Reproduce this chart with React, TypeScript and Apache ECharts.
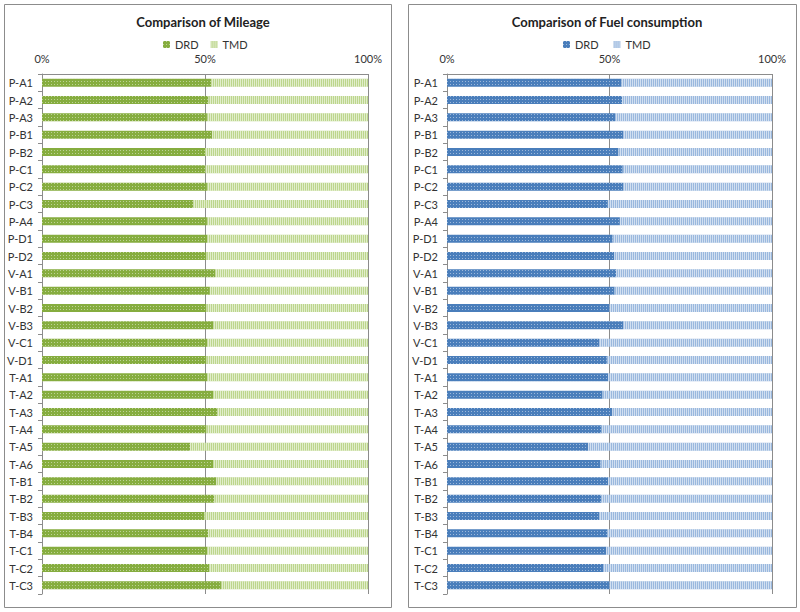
import React, { useEffect, useRef } from "react";
import * as echarts from "echarts";

const categories = ["P-A1","P-A2","P-A3","P-B1","P-B2","P-C1","P-C2","P-C3","P-A4","P-D1","P-D2","V-A1","V-B1","V-B2","V-B3","V-C1","V-D1","T-A1","T-A2","T-A3","T-A4","T-A5","T-A6","T-B1","T-B2","T-B3","T-B4","T-C1","T-C2","T-C3"];

const mileageDRD = [51.9,51.1,50.6,52.2,50.0,50.1,50.6,46.4,50.6,50.7,50.5,53.1,51.5,50.5,52.6,50.7,50.5,50.7,52.5,53.7,50.5,45.4,52.5,53.5,52.9,49.9,51.0,50.7,51.3,54.9];
const mileageTMD = [48.1,48.9,49.4,47.8,50.0,49.9,49.4,53.6,49.4,49.3,49.5,46.9,48.5,49.5,47.4,49.3,49.5,49.3,47.5,46.3,49.5,54.6,47.5,46.5,47.1,50.1,49.0,49.3,48.7,45.1];

const fuelDRD = [53.7,53.9,51.7,54.2,52.8,54.1,54.3,49.5,53.2,51.0,51.5,52.1,51.6,50.0,54.2,46.8,49.2,49.6,47.9,50.9,47.6,43.4,47.3,49.6,47.4,46.9,49.4,49.0,48.0,50.0];
const fuelTMD = [46.3,46.1,48.3,45.8,47.2,45.9,45.7,50.5,46.8,49.0,48.5,47.9,48.4,50.0,45.8,53.2,50.8,50.4,52.1,49.1,52.4,56.6,52.7,50.4,52.6,53.1,50.6,51.0,52.0,50.0];

const xTicks = [0, 50, 100];

const FONT = "Lato, 'Open Sans', sans-serif";

const dotDecal = {
  symbol: "rect",
  symbolSize: 1,
  dashArrayX: [1, 2],
  dashArrayY: [1, 2],
  color: "rgba(255,255,255,0.45)",
  rotation: 0,
};
const stripeDecal = {
  symbol: "rect",
  symbolSize: 1,
  dashArrayX: [1, 1],
  dashArrayY: [4, 0],
  color: "rgba(255,255,255,0.55)",
  rotation: 0,
};

export default function App() {
  const ref = useRef<HTMLDivElement>(null);
  useEffect(() => {
    const chart = echarts.init(ref.current!, null, { renderer: "svg" });
    const grids = [
      { left: 42, top: 74, width: 326, height: 520 },
      { left: 447, top: 74, width: 325, height: 520 },
    ];
    const xAxis = grids.map((_, i) => ({
      type: "value",
      gridIndex: i,
      position: "top",
      min: 0,
      max: 100,
      interval: 50,
      axisLine: { show: true, lineStyle: { color: "#8c8c8c" } },
      axisTick: { show: false },
      splitLine: { show: true, lineStyle: { color: "#8c8c8c" } },
      axisLabel: {
        margin: 10,
        color: "#333",
        fontSize: 11,
        fontFamily: FONT,
        formatter: (v: number) => (xTicks.includes(v) ? v + "%" : ""),
      },
    }));
    const yAxis = grids.map((_, i) => ({
      type: "category",
      gridIndex: i,
      inverse: true,
      data: categories,
      axisLine: { show: true, lineStyle: { color: "#8c8c8c" } },
      axisTick: { show: true, length: 4, lineStyle: { color: "#8c8c8c" } },
      axisLabel: { color: "#333", fontSize: 11, fontFamily: FONT, margin: 9 },
    }));
    const mk = (name: string, data: number[], idx: number, color: string, decal: any, stack: string) => ({
      name,
      type: "bar",
      stack,
      xAxisIndex: idx,
      yAxisIndex: idx,
      data,
      barWidth: 8,
      itemStyle: { color, decal },
      emphasis: { disabled: true },
    });
    const legendBase = { icon: "rect", itemWidth: 7, itemHeight: 7, itemGap: 12, top: 34, textStyle: { fontSize: 11, color: "#333", fontFamily: FONT }, selectedMode: false };
    chart.setOption({
      animation: false,
      backgroundColor: "#ffffff",
      textStyle: { fontFamily: FONT },
      title: [
        { text: "Comparison of Mileage", left: 198, top: 10, textAlign: "center", textStyle: { fontSize: 13, fontWeight: "bold", color: "#222", fontFamily: FONT } },
        { text: "Comparison of Fuel consumption", left: 602, top: 10, textAlign: "center", textStyle: { fontSize: 13, fontWeight: "bold", color: "#222", fontFamily: FONT } },
      ],
      legend: [
        { ...legendBase, data: ["DRD", "TMD"], left: 158 },
        { ...legendBase, data: ["DRD ", "TMD "], left: 558 },
      ],
      grid: grids,
      xAxis,
      yAxis,
      series: [
        mk("DRD", mileageDRD, 0, "#86ad3f", dotDecal, "m"),
        mk("TMD", mileageTMD, 0, "#bcd68c", stripeDecal, "m"),
        mk("DRD ", fuelDRD, 1, "#4a7ebb", dotDecal, "f"),
        mk("TMD ", fuelTMD, 1, "#9ab8de", stripeDecal, "f"),
      ],
      graphic: [
        { type: "rect", shape: { x: 4.5, y: 4.5, width: 387, height: 603 }, style: { fill: "none", stroke: "#8c8c8c", lineWidth: 1 }, silent: true },
        { type: "rect", shape: { x: 408.5, y: 4.5, width: 388, height: 603 }, style: { fill: "none", stroke: "#8c8c8c", lineWidth: 1 }, silent: true },
      ],
    });
    return () => chart.dispose();
  }, []);
  return <div ref={ref} style={{ position: "fixed", left: 0, top: 0, width: 800, height: 612 }} />;
}
